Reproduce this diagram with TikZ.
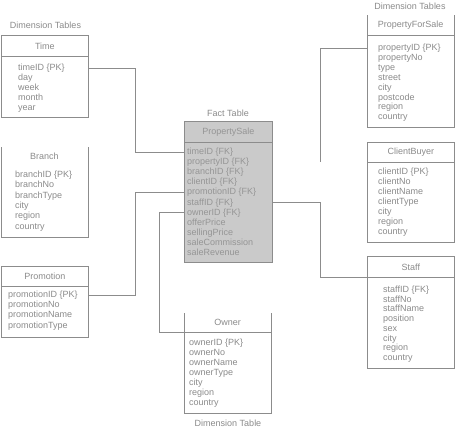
\documentclass[tikz,border=0pt]{standalone}
\usepackage{fontspec}
\setmainfont{Liberation Sans}
\usetikzlibrary{calc}
\definecolor{linegray}{HTML}{8C8C8C}
\definecolor{txtgray}{HTML}{8A8A8A}
\definecolor{factfill}{HTML}{CACACA}
\definecolor{facttxt}{HTML}{959595}
\tikzset{
  box/.style={draw=linegray, line width=0.7pt, anchor=north west, inner sep=0pt, minimum width=87pt},
  openbox/.style={anchor=north west, inner sep=0pt, minimum width=87pt},
  ttl/.style={text=txtgray, font=\fontsize{9}{10}\selectfont, inner sep=0pt},
  item/.style={text=txtgray, font=\fontsize{9}{10}\selectfont, inner sep=0pt, anchor=base west},
  lbl/.style={text=txtgray, font=\fontsize{9}{10}\selectfont, inner sep=0pt},
  conn/.style={draw=linegray, line width=0.7pt},
  side/.style={draw=linegray, line width=0.7pt}
}
\newcommand\tabrows[6][]{\foreach \s [count=\i] in {#6} {\node[item,#1] (#2-\i) at (#3,{#4+#5*(\i-1)}) {\s};}}
\begin{document}
\begin{tikzpicture}[x=1pt,y=-1pt]
\useasboundingbox (0,0) rectangle (456,429);
% labels
\node[lbl] (lbl-dimL) at (45.5,25) {Dimension Tables};
\node[lbl] (lbl-fact) at (228,113) {Fact Table};
\node[lbl] (lbl-dimR) at (410,6) {Dimension Tables};
\node[lbl] (lbl-dimB) at (228,423.5) {Dimension Table};
% Time
\node[box, minimum height=21pt] (time-h) at (1,35) {};
\node[box, minimum height=61pt] (time) at (1,56) {};
\node[ttl] (time-t) at (time-h.center) {Time};
\tabrows{time}{18}{70.5}{10}{timeID \{PK\}, day, week, month, year}
% Branch (open top, no divider)
\node[openbox, minimum height=90pt] (branch) at (1,147) {};
\draw[side] (branch.north west) |- (branch.south east) -- (branch.north east);
\node[ttl] (branch-t) at (44.5,156) {Branch};
\tabrows{branch}{15}{177.5}{10.3}{branchID \{PK\}, branchNo, branchType, city, region, country}
% Promotion
\node[box, minimum height=20pt] (promo-h) at (1,266) {};
\node[box, minimum height=51pt] (promo) at (1,286) {};
\node[ttl] (promo-t) at (promo-h.center) {Promotion};
\tabrows{promo}{8}{297.5}{10.2}{promotionID \{PK\}, promotionNo, promotionName, promotionType}
% PropertySale (fact)
\node[box, fill=factfill, minimum width=88pt, minimum height=21pt] (ps-h) at (184,121) {};
\node[box, fill=factfill, minimum width=88pt, minimum height=120pt] (ps) at (184,142) {};
\node[ttl, text=facttxt] (ps-t) at (ps-h.center) {PropertySale};
\tabrows[text=facttxt]{ps}{187}{154.5}{10.1}{timeID \{FK\}, propertyID \{FK\}, branchID \{FK\}, clientID \{FK\}, promotionID \{FK\}, staffID \{FK\}, ownerID \{FK\}, offerPrice, sellingPrice, saleCommission, saleRevenue}
% Owner (open top)
\node[openbox, minimum height=19pt] (owner-h) at (184,313) {};
\node[box, minimum height=81pt] (owner) at (184,332) {};
\draw[side] (owner-h.north west) -- (owner-h.south west) (owner-h.north east) -- (owner-h.south east);
\node[ttl] (owner-t) at (owner-h.center) {Owner};
\tabrows{owner}{189}{345.5}{10}{ownerID \{PK\}, ownerNo, ownerName, ownerType, city, region, country}
% PropertyForSale (open top)
\node[openbox, minimum height=20pt] (pfs-h) at (367,15) {};
\node[box, minimum height=92pt] (pfs) at (367,35) {};
\draw[side] (pfs-h.north west) -- (pfs-h.south west) (pfs-h.north east) -- (pfs-h.south east);
\node[ttl] (pfs-t) at (pfs-h.center) {PropertyForSale};
\tabrows{pfs}{378}{50.5}{9.9}{propertyID \{PK\}, propertyNo, type, street, city, postcode, region, country}
% ClientBuyer
\node[box, minimum height=20pt] (cb-h) at (367,142) {};
\node[box, minimum height=80pt] (cb) at (367,162) {};
\node[ttl] (cb-t) at (cb-h.center) {ClientBuyer};
\tabrows{cb}{378}{174.5}{10}{clientID \{PK\}, clientNo, clientName, clientType, city, region, country}
% Staff
\node[box, minimum height=21pt] (staff-h) at (367,256) {};
\node[box, minimum height=91pt] (staff) at (367,277) {};
\node[ttl] (staff-t) at (staff-h.center) {Staff};
\tabrows{staff}{383}{292.5}{9.7}{staffID \{FK\}, staffNo, staffName, position, sex, city, region, country}
% connectors
\draw[conn] (time-1 -| time.east) -- ++(47,0) |- (ps-1 -| ps.west);
\draw[conn] (promo-1 -| promo.east) -- ++(47,0) |- (ps-5 -| ps.west);
\draw[conn] (ps-7 -| ps.west) -- ++(-25,0) |- (owner.north west);
\draw[conn] (ps-6 -| ps.east) -- ++(48,0) |- (staff.north west);
\coordinate (pfsend) at ($(ps-2 -| ps.east)+(48,0)$);
\draw[conn] (pfs-1 -| pfs.west) -| (pfsend);
\end{tikzpicture}
\end{document}
